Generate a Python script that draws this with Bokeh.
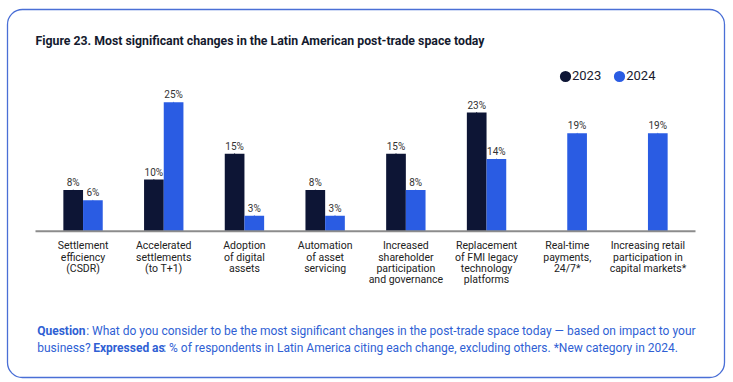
import numpy as np
from bokeh.plotting import figure
from bokeh.models import (ColumnDataSource, LabelSet, Label, Legend, LegendItem,
                          Range1d, BoxAnnotation)
from bokeh.transform import dodge
from bokeh.core.properties import value
from bokeh.embed import file_html
from bokeh.resources import INLINE

# ---------------- data ----------------
categories = [
    "Settlement\nefficiency\n(CSDR)",
    "Accelerated\nsettlements\n(to T+1)",
    "Adoption\nof digital\nassets",
    "Automation\nof asset\nservicing",
    "Increased\nshareholder\nparticipation\nand governance",
    "Replacement\nof FMI legacy\ntechnology\nplatforms",
    "Real-time\npayments,\n24/7*",
    "Increasing retail\nparticipation in\ncapital markets*",
]
values_2023 = [8, 10, 15, 8, 15, 23, None, None]
values_2024 = [6, 25, 3, 3, 8, 14, 19, 19]
series_names = ["2023", "2024"]

title_text = "Figure 23. Most significant changes in the Latin American post-trade space today"
note_line1 = [("Question", "bold"),
              (": What do you consider to be the most significant changes in the post-trade space today \u2014 based on impact to your", "normal")]
note_line2 = [("business? ", "normal"),
              ("Expressed as", "bold"),
              (": % of respondents in Latin America citing each change, excluding others. *New category in 2024.", "normal")]

# ---------------- styles ----------------
DARK = "#0d1535"
BLUE = "#2a5ce3"
NOTE = "#2f5fd4"
FNAME = "Roboto"
FONT = value(FNAME)

W, H = 733, 382
PX_X = 80.7      # px per category
PX_Y = 5.16      # px per percentage point
AX_L, AX_R, AX_Y = 35, 695, 230.7   # axis extent on the canvas
PAD = (AX_R - AX_L) / PX_X / 2 - len(categories) / 2   # extra room beyond outer bands
x_start = -0.5 - PAD - AX_L / PX_X
x_end = x_start + W / PX_X
y_end = AX_Y / PX_Y
y_start = y_end - H / PX_Y

p = figure(width=W, height=H, output_backend="svg", toolbar_location=None,
           x_range=Range1d(x_start, x_end), y_range=Range1d(y_start, y_end),
           min_border=0, x_axis_location=None, y_axis_location=None)
p.xgrid.visible = False
p.ygrid.visible = False
p.outline_line_color = None

idx = list(range(len(categories)))

# outer rounded frame
p.add_layout(BoxAnnotation(left=7, right=724, top=9, bottom=377,
                           left_units="canvas", right_units="canvas",
                           top_units="canvas", bottom_units="canvas",
                           border_radius=15, fill_alpha=0,
                           line_color="#4a6fd6", line_alpha=1.0, line_width=1.3))

src23 = ColumnDataSource(dict(
    x=[i for i in idx if values_2023[i] is not None],
    y=[v for v in values_2023 if v is not None],
    label=[f"{v}%" for v in values_2023 if v is not None]))
src24 = ColumnDataSource(dict(
    x=idx, y=values_2024, label=[f"{v}%" for v in values_2024]))

# one row per line of each category label, so every line is centred
LINE_H = 11.3
cx, cy, ct, cdy = [], [], [], []
for i, c in zip(idx, categories):
    for j, line in enumerate(c.split("\n")):
        cx.append(i); cy.append(0); ct.append(line); cdy.append(-8 - j * LINE_H)
srccat = ColumnDataSource(dict(x=cx, y=cy, text=ct, dy=cdy))

BW = 0.244
r23 = p.vbar(x=dodge("x", -BW / 2), top="y", width=BW, source=src23,
             fill_color=DARK, line_color=None)
r24 = p.vbar(x=dodge("x", BW / 2), top="y", width=BW, source=src24,
             fill_color=BLUE, line_color=None)

# category axis baseline
p.segment(x0=[idx[0] - 0.5 - PAD], x1=[idx[-1] + 0.5 + PAD], y0=[0], y1=[0],
          line_color="#8c8c8c", line_width=2)

for src, off in ((src23, -BW / 2), (src24, BW / 2)):
    p.add_layout(LabelSet(x=dodge("x", off), y="y", text="label", source=src,
                          text_align="center", text_baseline="bottom", y_offset=2,
                          text_font=FONT, text_font_size="10px", text_color="#333333"))

p.add_layout(LabelSet(x="x", y="y", text="text", source=srccat, y_offset="dy",
                      text_align="center", text_baseline="top",
                      text_font=FONT, text_font_size="10.5px", text_color="#222222"))

# title
p.add_layout(Label(x=35, y=40, x_units="canvas", y_units="canvas",
                   text=title_text, text_baseline="middle",
                   text_font=FNAME, text_font_size="12.3px", text_font_style="bold",
                   text_color="#141a2e"))

# footnote (segment offsets follow the widths of the preceding runs at 12px Roboto)
NOTE_X = 36.7
for y, parts, offs in ((330, note_line1, [0, 49]),
                       (347, note_line2, [0, 56, 126])):
    for (t, st), xo in zip(parts, offs):
        p.add_layout(Label(x=NOTE_X + xo, y=y, x_units="canvas", y_units="canvas",
                           text=t, text_baseline="middle",
                           text_font=FNAME, text_font_size="12px", text_font_style=st,
                           text_color=NOTE))

# legend (ellipse glyphs give round legend swatches)
e23 = p.ellipse(x=dodge("x", -BW / 2), y="y", width=1, height=1, width_units="screen",
                height_units="screen", source=src23, fill_color=DARK, line_color=None)
e24 = p.ellipse(x=dodge("x", BW / 2), y="y", width=1, height=1, width_units="screen",
                height_units="screen", source=src24, fill_color=BLUE, line_color=None)
legend = Legend(items=[LegendItem(label=series_names[0], renderers=[e23]),
                       LegendItem(label=series_names[1], renderers=[e24])],
                orientation="horizontal", location=(558, 299),
                glyph_width=14, glyph_height=14, label_standoff=0, spacing=11,
                padding=0, margin=0, background_fill_alpha=0, border_line_alpha=0,
                label_text_font=FNAME, label_text_font_size="13px",
                label_text_color="#1a1a2e")
p.add_layout(legend, "center")

open("out.html", "w").write(file_html(p, INLINE))
